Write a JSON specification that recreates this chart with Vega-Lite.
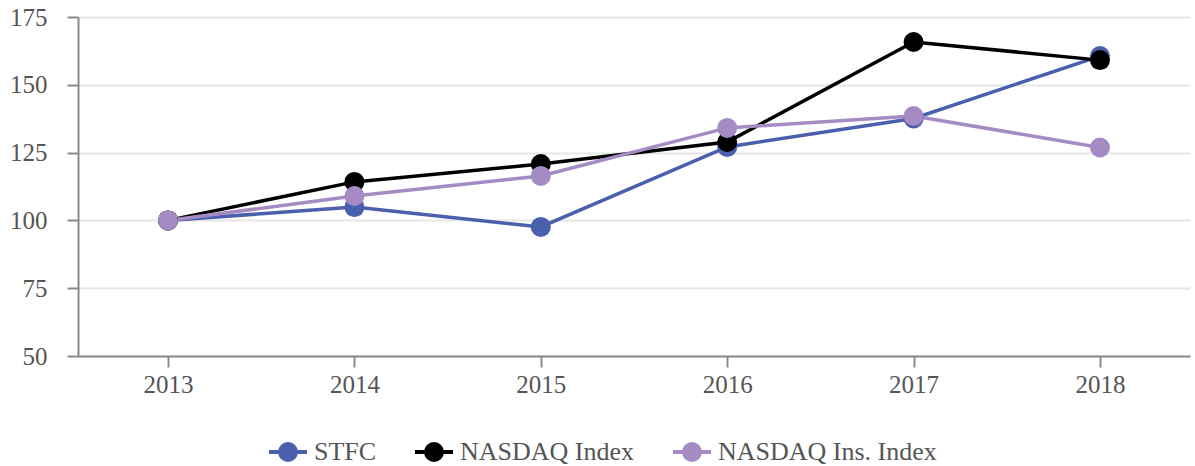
{
  "$schema": "https://vega.github.io/schema/vega-lite/v6.json",
  "autosize": {"type": "none"},
  "padding": {"left": 78, "top": 17, "right": 5, "bottom": 110},
  "width": 1112,
  "height": 339,
  "background": "white",
  "config": {
    "font": "Liberation Serif",
    "view": {"stroke": null},
    "axis": {"labelFont": "Liberation Serif", "labelFontSize": 25, "labelColor": "#555555", "domainColor": "#8a8a8a", "tickColor": "#8a8a8a", "domainWidth": 2, "tickWidth": 2, "tickSize": 11, "gridColor": "#e6e6e6", "gridWidth": 2, "title": null}
  },
  "data": {"values": [
    {"year": "2013", "series": "STFC", "value": 100},
    {"year": "2014", "series": "STFC", "value": 104.9},
    {"year": "2015", "series": "STFC", "value": 97.6},
    {"year": "2016", "series": "STFC", "value": 127.1},
    {"year": "2017", "series": "STFC", "value": 137.6},
    {"year": "2018", "series": "STFC", "value": 160.6},
    {"year": "2013", "series": "NASDAQ Index", "value": 100},
    {"year": "2014", "series": "NASDAQ Index", "value": 114.2},
    {"year": "2015", "series": "NASDAQ Index", "value": 120.8},
    {"year": "2016", "series": "NASDAQ Index", "value": 128.9},
    {"year": "2017", "series": "NASDAQ Index", "value": 165.8},
    {"year": "2018", "series": "NASDAQ Index", "value": 159.1},
    {"year": "2013", "series": "NASDAQ Ins. Index", "value": 100},
    {"year": "2014", "series": "NASDAQ Ins. Index", "value": 109},
    {"year": "2015", "series": "NASDAQ Ins. Index", "value": 116.4},
    {"year": "2016", "series": "NASDAQ Ins. Index", "value": 134.1},
    {"year": "2017", "series": "NASDAQ Ins. Index", "value": 138.5},
    {"year": "2018", "series": "NASDAQ Ins. Index", "value": 126.9}
  ]},
  "encoding": {
    "x": {"field": "year", "type": "ordinal", "scale": {"type": "point", "padding": 0.483},
      "axis": {"labelAngle": 0, "labelPadding": 5, "grid": false}},
    "y": {"field": "value", "type": "quantitative", "scale": {"domain": [50, 175], "nice": false, "zero": false},
      "axis": {"values": [50, 75, 100, 125, 150, 175], "labelPadding": 20, "grid": true}},
    "color": {"field": "series", "type": "nominal",
      "scale": {"domain": ["STFC", "NASDAQ Index", "NASDAQ Ins. Index"], "range": ["#4a5fad", "#000000", "#a48bc4"]},
      "legend": {"orient": "none", "legendX": 189, "legendY": 414, "direction": "horizontal", "title": null,
        "labelFont": "Liberation Serif", "labelFontSize": 26, "labelColor": "#555555", "labelLimit": 0,
        "symbolType": "M -1 0 L 1 0 M 0.42 0 A 0.42 0.42 0 1 1 -0.42 0 A 0.42 0.42 0 1 1 0.42 0 Z",
        "symbolSize": 1444, "symbolStrokeWidth": 4, "labelOffset": 5, "columnPadding": 30,
        "encode": {"symbols": {"update": {"fill": {"scale": "color", "field": "value"}, "stroke": {"scale": "color", "field": "value"}, "opacity": {"value": 1}}}}}
    }
  },
  "layer": [
    {"mark": {"type": "line", "strokeWidth": 3.5}},
    {"mark": {"type": "circle", "size": 400, "opacity": 1}}
  ]
}
